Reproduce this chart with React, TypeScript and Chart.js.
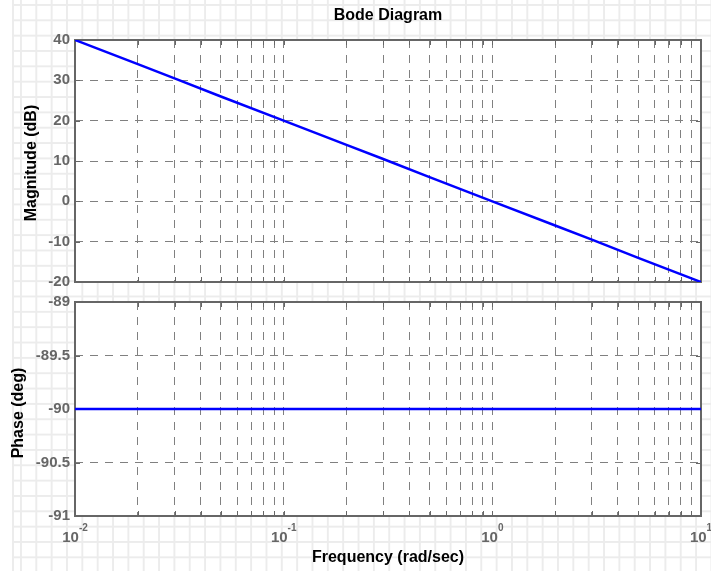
import React, { useEffect, useRef } from "react";
import { Chart, registerables } from "chart.js";

Chart.register(...registerables);

// ---- data ----
const magFreqs = [0.01, 0.02, 0.03, 0.05, 0.1, 0.2, 0.3, 0.5, 1, 2, 3, 5, 10];
const magnitudeDb = [40, 34, 30.5, 26, 20, 14, 10.5, 6, 0, -6, -9.5, -14, -20];
const phaseFreqs = [0.01, 10];
const phaseDeg = [-90, -90];

const xGridTicks = [
  0.01, 0.02, 0.03, 0.04, 0.05, 0.06, 0.07, 0.08, 0.09,
  0.1, 0.2, 0.3, 0.4, 0.5, 0.6, 0.7, 0.8, 0.9,
  1, 2, 3, 4, 5, 6, 7, 8, 9, 10,
];
const xMajorTicks = [0.01, 0.1, 1, 10];
const xTickExponents = ["-2", "-1", "0", "1"];
const magYTicks = [-20, -10, 0, 10, 20, 30, 40];
const phaseYTicks = [-91, -90.5, -90, -89.5, -89];

const FONT = 'Arial, "Liberation Sans", Helvetica, sans-serif';
const TICK_GRAY = "#666666";

const framePlugin = {
  id: "frame",
  beforeDraw(chart: any) {
    const { ctx, chartArea: a } = chart;
    ctx.save();
    ctx.fillStyle = "#ffffff";
    ctx.fillRect(a.left, a.top, a.right - a.left, a.bottom - a.top);
    ctx.restore();
  },
  beforeDatasetsDraw(chart: any) {
    const { ctx, chartArea: a } = chart;
    const xs = chart.scales.x;
    const ys = chart.scales.y;
    ctx.save();
    ctx.strokeStyle = "#666666";
    ctx.lineWidth = 1;
    ctx.beginPath();
    for (const t of xs.ticks) {
      const px = Math.round(xs.getPixelForValue(t.value)) + 0.5;
      ctx.moveTo(px, a.top);
      ctx.lineTo(px, a.top + 5);
      ctx.moveTo(px, a.bottom);
      ctx.lineTo(px, a.bottom - 5);
    }
    for (const t of ys.ticks) {
      const py = Math.round(ys.getPixelForValue(t.value)) + 0.5;
      ctx.moveTo(a.left, py);
      ctx.lineTo(a.left + 5, py);
      ctx.moveTo(a.right, py);
      ctx.lineTo(a.right - 5, py);
    }
    ctx.stroke();
    ctx.lineWidth = 2;
    ctx.strokeRect(a.left, a.top, a.right - a.left, a.bottom - a.top);
    ctx.restore();
  },
};

const xLabelPlugin = {
  id: "xlabels",
  afterDraw(chart: any) {
    const { ctx, chartArea: a } = chart;
    const xs = chart.scales.x;
    ctx.save();
    ctx.fillStyle = TICK_GRAY;
    ctx.textBaseline = "alphabetic";
    ctx.textAlign = "left";
    xMajorTicks.forEach((v, i) => {
      const px = xs.getPixelForValue(v);
      ctx.font = `bold 15px ${FONT}`;
      const w1 = ctx.measureText("10").width;
      ctx.font = `bold 10px ${FONT}`;
      const w2 = ctx.measureText(xTickExponents[i]).width;
      const start = px - (w1 + w2) / 2;
      ctx.font = `bold 15px ${FONT}`;
      ctx.fillText("10", start, a.bottom + 26);
      ctx.font = `bold 10px ${FONT}`;
      ctx.fillText(xTickExponents[i], start + w1, a.bottom + 15);
    });
    ctx.restore();
  },
};

function makeOptions(yTicks: number[], padTop: number, padBottom: number) {
  return {
    responsive: false,
    animation: false as const,
    devicePixelRatio: 1,
    layout: { padding: { left: 0, right: 10, top: padTop, bottom: padBottom } },
    plugins: { legend: { display: false }, tooltip: { enabled: false }, title: { display: false } },
    scales: {
      x: {
        type: "logarithmic" as const,
        min: xGridTicks[0],
        max: xGridTicks[xGridTicks.length - 1],
        afterBuildTicks: (s: any) => {
          s.ticks = xGridTicks.map((v) => ({ value: v }));
        },
        afterFit: (s: any) => {
          s.height = 0;
        },
        ticks: { display: false },
        grid: { color: "#808080", lineWidth: 1, drawTicks: false },
        border: { display: false, dash: [8, 7] },
      },
      y: {
        type: "linear" as const,
        min: yTicks[0],
        max: yTicks[yTicks.length - 1],
        afterBuildTicks: (s: any) => {
          s.ticks = yTicks.map((v) => ({ value: v }));
        },
        afterFit: (s: any) => {
          s.width = 75;
        },
        ticks: {
          color: TICK_GRAY,
          padding: 5,
          font: { family: FONT, size: 15, weight: "bold" as const },
          callback: (v: any) => String(v),
        },
        grid: { color: "#808080", lineWidth: 1, drawTicks: false },
        border: { display: false, dash: [8, 7] },
      },
    },
  };
}

export default function App() {
  const magRef = useRef<HTMLCanvasElement>(null);
  const phaseRef = useRef<HTMLCanvasElement>(null);

  useEffect(() => {
    document.body.style.margin = "0";
    const mag = new Chart(magRef.current as HTMLCanvasElement, {
      type: "line",
      data: {
        datasets: [
          {
            data: magFreqs.map((f, i) => ({ x: f, y: magnitudeDb[i] })),
            borderColor: "#0000ff",
            borderWidth: 2.5,
            pointRadius: 0,
            tension: 0,
          },
        ],
      },
      options: makeOptions(magYTicks, 40, 571 - 282) as any,
      plugins: [framePlugin],
    });
    const ph = new Chart(phaseRef.current as HTMLCanvasElement, {
      type: "line",
      data: {
        datasets: [
          {
            data: phaseFreqs.map((f, i) => ({ x: f, y: phaseDeg[i] })),
            borderColor: "#0000ff",
            borderWidth: 2.5,
            pointRadius: 0,
            tension: 0,
          },
        ],
      },
      options: makeOptions(phaseYTicks, 302, 571 - 516) as any,
      plugins: [framePlugin, xLabelPlugin],
    });
    return () => {
      mag.destroy();
      ph.destroy();
    };
  }, []);

  const textBase: React.CSSProperties = {
    position: "absolute",
    fontFamily: FONT,
    fontWeight: "bold",
    fontSize: 16,
    lineHeight: "16px",
    color: "#000",
    whiteSpace: "nowrap",
  };

  return (
    <div
      style={{
        position: "fixed",
        left: 0,
        top: 0,
        width: 711,
        height: 571,
        background: "#fff",
        overflow: "hidden",
      }}
    >
      <div
        style={{
          position: "absolute",
          left: 12,
          top: 0,
          right: 0,
          bottom: 0,
          backgroundImage:
            "linear-gradient(to right, #ececec 2px, transparent 2px), linear-gradient(to bottom, #ececec 2px, transparent 2px)",
          backgroundSize: "15.35px 15.35px",
          backgroundPosition: "6px 4px",
          borderLeft: "2px solid #ececec",
        }}
      />
      <canvas ref={magRef} width={711} height={571} style={{ position: "absolute", left: 0, top: 0 }} />
      <canvas ref={phaseRef} width={711} height={571} style={{ position: "absolute", left: 0, top: 0 }} />
      <div style={{ ...textBase, left: 75, width: 626, top: 7, textAlign: "center" }}>Bode Diagram</div>
      <div style={{ ...textBase, left: 75, width: 626, top: 549, textAlign: "center" }}>Frequency (rad/sec)</div>
      <div
        style={{
          ...textBase,
          left: 31,
          top: 163,
          transform: "translate(-50%, -50%) rotate(-90deg)",
        }}
      >
        Magnitude (dB)
      </div>
      <div
        style={{
          ...textBase,
          left: 18,
          top: 413,
          transform: "translate(-50%, -50%) rotate(-90deg)",
        }}
      >
        Phase (deg)
      </div>
    </div>
  );
}
